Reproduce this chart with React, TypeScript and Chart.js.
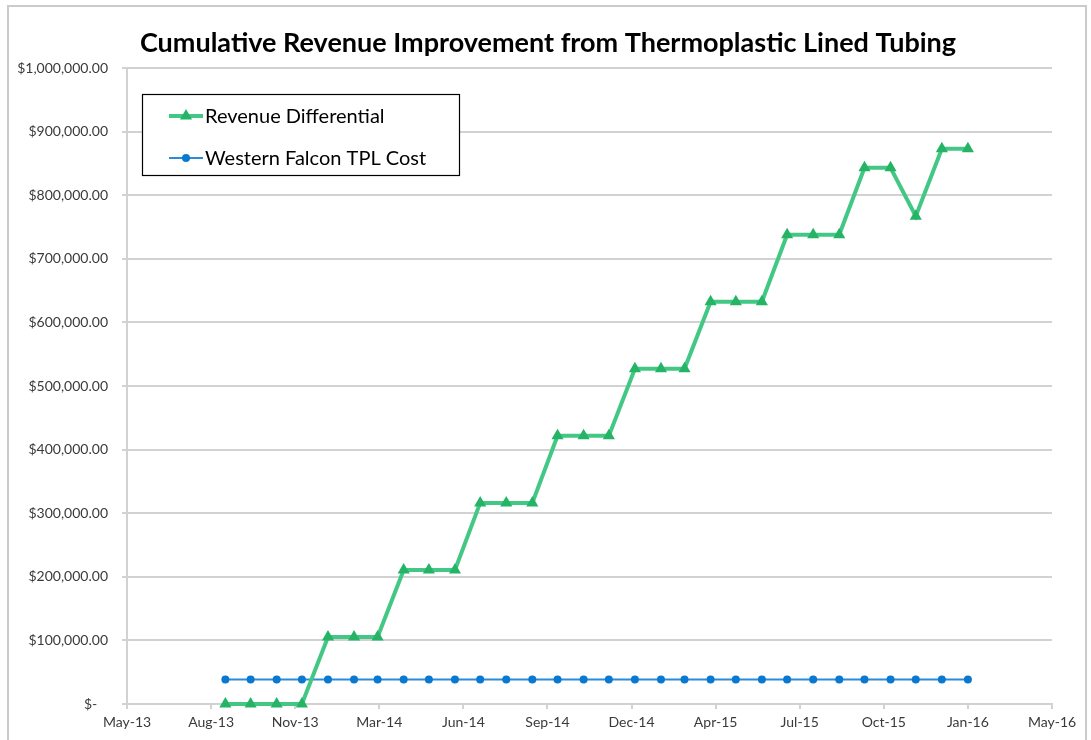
import React, { useEffect, useRef } from 'react';
import { Chart, registerables } from 'chart.js';

Chart.register(...registerables);

// ---- Data ----
const TITLE = 'Cumulative Revenue Improvement from Thermoplastic Lined Tubing';
const SERIES_NAMES = ['Revenue Differential', 'Western Falcon TPL Cost'];

// x-axis (date axis, major unit 100 days)
const AXIS_START = '2013-05-06';
const AXIS_END = '2016-05-10';
const X_STEP_DAYS = 100;

// y-axis
const Y_MIN = 0;
const Y_MAX = 1000000;
const Y_STEP = 100000;

const dates = [
  '2013-08-31', '2013-09-30', '2013-10-31', '2013-11-30', '2013-12-31',
  '2014-01-31', '2014-02-28', '2014-03-31', '2014-04-30', '2014-05-31',
  '2014-06-30', '2014-07-31', '2014-08-31', '2014-09-30', '2014-10-31',
  '2014-11-30', '2014-12-31', '2015-01-31', '2015-02-28', '2015-03-31',
  '2015-04-30', '2015-05-31', '2015-06-30', '2015-07-31', '2015-08-31',
  '2015-09-30', '2015-10-31', '2015-11-30', '2015-12-31', '2016-01-31',
];

const revenueDifferential = [
  0, 0, 0, 0, 105400,
  105400, 105400, 210800, 210800, 210800,
  316200, 316200, 316200, 421600, 421600,
  421600, 527000, 527000, 527000, 632400,
  632400, 632400, 737800, 737800, 737800,
  843200, 843200, 767000, 873000, 873000,
];

const tplCost = [
  38500, 38500, 38500, 38500, 38500,
  38500, 38500, 38500, 38500, 38500,
  38500, 38500, 38500, 38500, 38500,
  38500, 38500, 38500, 38500, 38500,
  38500, 38500, 38500, 38500, 38500,
  38500, 38500, 38500, 38500, 38500,
];

const MONTHS = ['Jan', 'Feb', 'Mar', 'Apr', 'May', 'Jun', 'Jul', 'Aug', 'Sep', 'Oct', 'Nov', 'Dec'];
const DAY_MS = 86400000;
const toDay = (s: string) => Date.parse(s + 'T00:00:00Z') / DAY_MS;
const fmtDate = (day: number) => {
  const d = new Date(Math.round(day) * DAY_MS);
  return MONTHS[d.getUTCMonth()] + '-' + String(d.getUTCFullYear()).slice(2);
};
const fmtMoney = (v: number) =>
  v === 0 ? '$-   ' : '$' + v.toLocaleString('en-US', { minimumFractionDigits: 2, maximumFractionDigits: 2 });

const GREEN_LINE = '#43c784';
const GREEN_MARK = '#25b466';
const BLUE_LINE = '#2a8bdb';
const BLUE_MARK = '#0a78cf';
const TEXT = '#3a3a3a';
const GRID = '#d2d2d2';

const FONT = 'Lato, "Open Sans", sans-serif';

const framePlugin = {
  id: 'frameAndTitle',
  beforeDraw(chart: any) {
    const ctx = chart.ctx;
    ctx.save();
    ctx.fillStyle = '#ffffff';
    ctx.fillRect(0, 0, chart.width, chart.height);
    ctx.strokeStyle = '#cbcbcb';
    ctx.lineWidth = 2;
    ctx.strokeRect(8, 6, 1078, 800);
    ctx.fillStyle = '#000000';
    ctx.font = 'bold 27px ' + FONT;
    ctx.textAlign = 'center';
    ctx.textBaseline = 'middle';
    ctx.fillText(TITLE, 548, 43);
    ctx.restore();
  },
};

const legendPlugin = {
  id: 'insideLegend',
  afterDraw(chart: any) {
    const ctx = chart.ctx;
    const box = { x: 142, y: 94, w: 317, h: 81 };
    ctx.save();
    ctx.fillStyle = '#ffffff';
    ctx.fillRect(box.x, box.y, box.w, box.h);
    ctx.strokeStyle = '#000000';
    ctx.lineWidth = 1.2;
    ctx.strokeRect(box.x + 0.5, box.y + 0.5, box.w, box.h);
    const rows = [116, 158];
    chart.data.datasets.forEach((ds: any, i: number) => {
      const y = rows[i];
      ctx.strokeStyle = ds.borderColor;
      ctx.lineWidth = ds.borderWidth;
      ctx.beginPath();
      ctx.moveTo(169, y);
      ctx.lineTo(203, y);
      ctx.stroke();
      ctx.fillStyle = ds.pointBackgroundColor;
      const cx = 186;
      const r = ds.pointRadius;
      ctx.beginPath();
      if (ds.pointStyle === 'triangle') {
        ctx.moveTo(cx, y - r);
        ctx.lineTo(cx + r * 0.866, y + r * 0.5);
        ctx.lineTo(cx - r * 0.866, y + r * 0.5);
        ctx.closePath();
      } else {
        ctx.arc(cx, y, r, 0, Math.PI * 2);
      }
      ctx.fill();
      ctx.fillStyle = '#000000';
      ctx.font = '20px ' + FONT;
      ctx.textAlign = 'left';
      ctx.textBaseline = 'middle';
      ctx.fillText(ds.label, 205, y + 1);
    });
    ctx.restore();
  },
};

export default function App() {
  const canvasRef = useRef<HTMLCanvasElement | null>(null);

  useEffect(() => {
    const canvas = canvasRef.current;
    if (!canvas) return;
    const xs = dates.map(toDay);
    const chart = new Chart(canvas, {
      type: 'line',
      data: {
        datasets: [
          {
            label: SERIES_NAMES[0],
            data: xs.map((x, i) => ({ x, y: revenueDifferential[i] })),
            borderColor: GREEN_LINE,
            borderWidth: 4,
            pointStyle: 'triangle',
            pointRadius: 7,
            pointBackgroundColor: GREEN_MARK,
            pointBorderColor: GREEN_MARK,
            pointBorderWidth: 0,
            tension: 0,
            clip: false,
            order: 1,
          },
          {
            label: SERIES_NAMES[1],
            data: xs.map((x, i) => ({ x, y: tplCost[i] })),
            borderColor: BLUE_LINE,
            borderWidth: 2,
            pointStyle: 'circle',
            pointRadius: 4,
            pointBackgroundColor: BLUE_MARK,
            pointBorderColor: BLUE_MARK,
            pointBorderWidth: 0,
            tension: 0,
            clip: false,
            order: 2,
          },
        ],
      },
      options: {
        responsive: false,
        devicePixelRatio: 1,
        animation: false,
        events: [],
        layout: { padding: { top: 68, right: 39, bottom: 0, left: 0 } },
        plugins: {
          legend: { display: false },
          title: { display: false },
          tooltip: { enabled: false },
        },
        scales: {
          x: {
            type: 'linear',
            min: toDay(AXIS_START),
            max: toDay(AXIS_END),
            afterFit: (s: any) => { s.height = 36; },
            ticks: {
              stepSize: X_STEP_DAYS,
              autoSkip: false,
              maxRotation: 0,
              padding: 5,
              color: TEXT,
              font: { family: FONT, size: 14 },
              callback: (v: any) => fmtDate(Number(v)),
            },
            grid: {
              drawOnChartArea: false,
              drawTicks: true,
              tickLength: 5,
              color: GRID,
              lineWidth: 2,
            },
            border: { display: true, color: GRID, width: 2 },
          },
          y: {
            type: 'linear',
            min: Y_MIN,
            max: Y_MAX,
            afterFit: (s: any) => { s.width = 127; },
            ticks: {
              stepSize: Y_STEP,
              padding: 14,
              color: TEXT,
              font: { family: FONT, size: 14 },
              callback: (v: any) => fmtMoney(Number(v)),
            },
            grid: {
              drawTicks: true,
              tickLength: 5,
              color: GRID,
              lineWidth: 2,
            },
            border: { display: true, color: GRID, width: 2 },
          },
        },
      },
      plugins: [framePlugin, legendPlugin],
    });
    return () => chart.destroy();
  }, []);

  return (
    <div style={{ position: 'fixed', left: 0, top: 0, width: 1091, height: 740, background: '#fff' }}>
      <canvas ref={canvasRef} width={1091} height={740} style={{ display: 'block' }} />
    </div>
  );
}
